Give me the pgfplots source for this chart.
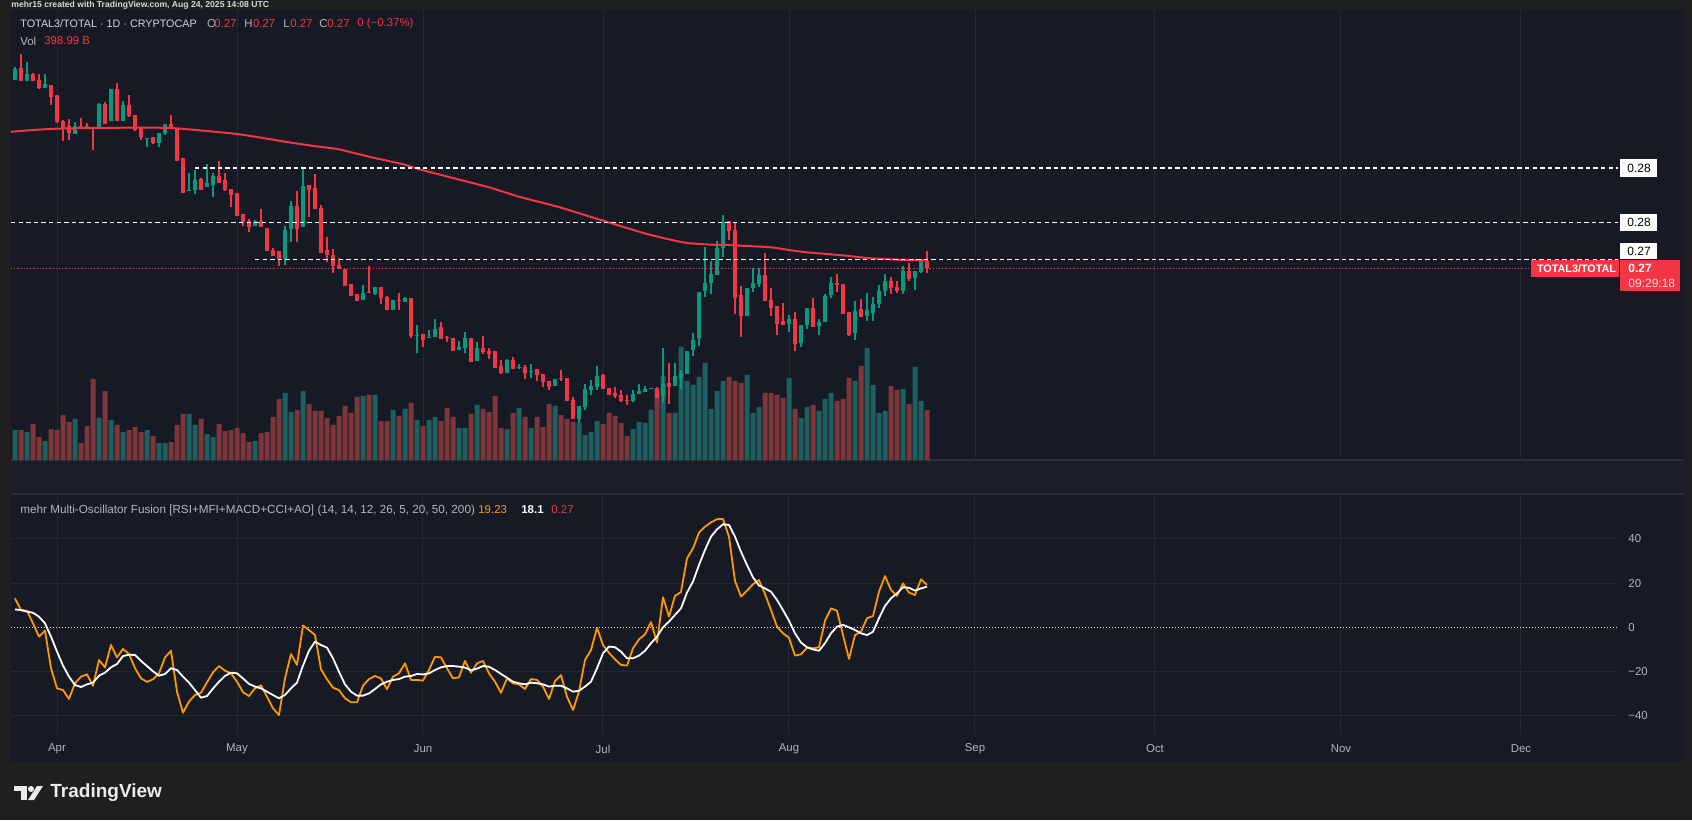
\documentclass[border=0pt]{standalone}
\usepackage{pgfplots}
\pgfplotsset{compat=1.18}
\usepackage{pgfplotstable}
\usepackage{fontspec}
\setmainfont{Liberation Sans}
\definecolor{bgout}{HTML}{1F1F1F}
\definecolor{panel}{HTML}{161A25}
\definecolor{gridc}{HTML}{242833}
\definecolor{sepc}{HTML}{2A2E39}
\definecolor{upc}{HTML}{089981}
\definecolor{dnc}{HTML}{F23645}
\definecolor{volup}{HTML}{1E605F}
\definecolor{voldn}{HTML}{80353B}
\definecolor{txtc}{HTML}{B2B5BE}
\definecolor{ttlc}{HTML}{D1D4DC}
\definecolor{orc}{HTML}{FF9800}
\newcommand{\tvf}{\fontsize{5.7}{6.8}\selectfont}

% candles: d = days from 1 Apr; o,h,l,c = vertical position on the price pane (larger = lower price); g = 1 up / 0 down; v = volume (bar height)
\pgfplotstableread{
d o h l c g v
-7 119 80 119 87 1 90
-6 84 42 123 123 0 90
-5 122 66 122 101 1 84
-4 101 98 122 122 0 108
-3 120 101 147 143 0 69
-2 143 102 143 131 1 57
-1 135 135 195 170 0 93
0 165 165 250 247 0 90
1 243 240 302 265 0 135
2 258 237 299 278 0 114
3 281 246 281 258 1 123
4 258 235 262 261 0 51
5 259 249 262 262 0 102
6 261 261 329 264 0 243
7 262 188 262 192 1 126
8 192 186 251 251 0 207
9 242 148 242 148 1 120
10 148 129 242 242 0 105
11 242 183 242 195 1 84
12 195 165 231 227 0 90
13 226 226 273 271 0 99
14 264 264 300 292 0 84
15 296 293 322 293 1 90
16 291 291 311 308 0 72
17 308 279 320 279 1 51
18 278 253 286 253 1 51
19 253 225 266 266 0 54
20 266 266 362 362 0 105
21 354 354 458 458 0 138
22 452 400 452 450 1 138
23 450 390 462 420 1 105
24 418 413 449 449 0 123
25 440 372 442 429 1 78
26 434 400 470 407 1 69
27 408 363 428 428 0 108
28 420 400 452 449 0 87
29 447 447 502 464 0 90
30 459 459 527 527 0 96
31 522 522 558 545 0 81
32 543 536 576 562 0 54
33 559 540 559 543 1 57
34 543 507 562 562 0 81
35 564 564 632 632 0 84
36 629 623 647 647 0 129
37 633 633 677 658 0 183
38 658 559 674 570 1 201
39 568 484 605 498 1 144
40 497 453 605 566 0 150
41 562 381 562 438 1 207
42 436 436 530 449 0 168
43 443 402 508 508 0 147
44 503 495 638 638 0 147
45 630 590 665 646 0 126
46 645 628 700 677 0 105
47 676 655 686 686 0 132
48 686 686 737 737 0 162
49 732 732 767 767 0 141
50 762 762 782 782 0 189
51 779 736 779 759 1 192
52 757 679 760 760 0 195
53 762 741 765 741 1 195
54 741 741 791 773 0 117
55 771 768 809 809 0 117
56 809 780 809 780 1 150
57 779 759 809 782 0 132
58 785 770 785 773 1 153
59 774 774 893 887 0 171
60 888 855 938 885 1 120
61 882 882 920 899 0 102
62 892 871 892 890 1 120
63 890 837 890 867 1 129
64 861 846 896 896 0 117
65 892 887 905 895 0 156
66 894 894 932 932 0 129
67 930 903 930 921 1 96
68 924 876 938 894 1 96
69 894 894 965 965 0 138
70 963 906 963 924 1 165
71 924 888 942 936 0 153
72 933 924 957 942 0 144
73 933 933 983 983 0 192
74 978 960 1001 998 0 96
75 998 957 998 960 1 93
76 960 951 986 986 0 141
77 985 972 987 982 1 156
78 981 975 1016 998 0 129
79 997 972 1013 994 1 96
80 987 987 1022 1004 0 129
81 1002 1002 1040 1025 0 99
82 1023 1023 1049 1040 0 168
83 1037 1018 1037 1018 1 162
84 1015 990 1024 1018 0 135
85 1014 1014 1082 1082 0 123
86 1080 1071 1138 1138 0 114
87 1137 1097 1149 1097 1 111
88 1100 1032 1109 1047 1 75
89 1049 1021 1064 1038 1 84
90 1041 978 1049 1008 1 117
91 1005 1001 1047 1047 0 108
92 1043 1043 1064 1064 0 141
93 1059 1041 1073 1069 0 132
94 1065 1050 1087 1082 0 111
95 1079 1065 1094 1082 0 72
96 1082 1050 1085 1062 1 93
97 1063 1032 1063 1052 1 114
98 1055 1038 1055 1047 1 111
99 1047 1044 1047 1044 1 150
100 1047 1042 1073 1073 0 216
101 1067 924 1088 1032 1 252
102 1029 969 1093 1040 0 141
103 1037 969 1037 1008 1 141
104 1013 990 1046 1001 1 339
105 1001 933 1001 933 1 237
106 929 880 949 900 1 225
107 893 756 917 756 1 249
108 752 622 770 729 1 291
109 728 662 761 702 1 153
110 704 603 704 624 1 207
111 623 524 650 545 1 237
112 543 543 600 572 0 249
113 570 549 822 773 0 237
114 765 737 890 827 0 231
115 827 744 827 744 1 255
116 743 685 755 729 1 141
117 731 683 740 705 1 159
118 705 639 782 782 0 201
119 780 744 828 803 0 201
120 798 798 884 851 0 195
121 843 789 854 854 0 186
122 851 825 876 837 1 246
123 837 817 932 911 0 153
124 908 855 922 855 1 126
125 855 804 866 804 1 159
126 804 773 860 860 0 165
127 857 838 884 846 1 147
128 845 762 845 768 1 183
129 765 711 773 729 1 201
130 729 702 756 735 0 177
131 732 732 821 821 0 183
132 816 816 888 885 0 246
133 878 782 899 813 1 237
134 807 777 831 831 0 282
135 828 759 842 810 1 336
136 818 771 842 792 1 225
137 791 736 803 753 1 141
138 752 702 767 723 1 147
139 723 711 761 743 0 222
140 741 723 758 753 0 210
141 752 678 761 693 1 213
142 693 669 722 717 0 168
143 714 693 749 693 1 279
144 696 660 698 663 1 177
145 663 633 698 685 0 150
}\candles

\pgfplotstableread{
d f s
-7 13.1 8.1
-6 7.8 7.8
-5 7.5 7.1
-4 1.8 6.6
-3 -4.2 4.8
-2 -1.5 1.8
-1 -18.5 -4.2
0 -27.6 -11.0
1 -28.4 -17.3
2 -32.4 -22.3
3 -25.3 -26.1
4 -22.3 -27.0
5 -21.3 -25.8
6 -26.5 -25.0
7 -14.8 -21.9
8 -18.1 -20.5
9 -8.0 -18.1
10 -13.6 -16.6
11 -9.8 -13.0
12 -12.1 -12.4
13 -18.5 -12.5
14 -23.1 -15.2
15 -24.7 -17.5
16 -23.5 -19.9
17 -20.8 -21.9
18 -13.6 -21.1
19 -10.6 -18.5
20 -29.1 -19.3
21 -38.6 -22.3
22 -33.6 -25.0
23 -30.6 -28.4
24 -29.6 -31.8
25 -24.9 -31.1
26 -20.4 -27.7
27 -17.5 -24.6
28 -19.6 -22.0
29 -20.8 -20.5
30 -24.6 -20.8
31 -29.3 -23.1
32 -31.1 -25.6
33 -27.6 -26.8
34 -26.2 -27.6
35 -31.4 -29.1
36 -36.6 -30.6
37 -39.7 -32.1
38 -23.1 -30.6
39 -12.1 -27.6
40 -17.0 -25.0
41 0.8 -17.3
42 -1.2 -10.6
43 -3.5 -6.5
44 -19.0 -8.0
45 -23.5 -9.2
46 -27.3 -14.0
47 -28.4 -20.1
48 -32.1 -25.8
49 -33.9 -29.1
50 -33.9 -30.9
51 -26.4 -30.9
52 -23.4 -29.9
53 -22.0 -27.9
54 -23.1 -25.8
55 -28.0 -24.6
56 -22.3 -23.8
57 -20.8 -23.4
58 -16.3 -22.3
59 -23.8 -22.0
60 -23.8 -21.1
61 -24.1 -21.3
62 -19.3 -20.8
63 -13.3 -19.3
64 -13.6 -18.1
65 -18.5 -17.5
66 -23.1 -17.5
67 -22.6 -17.8
68 -15.2 -18.2
69 -20.5 -19.5
70 -16.3 -18.7
71 -15.2 -17.5
72 -20.8 -17.8
73 -24.6 -19.3
74 -29.6 -21.1
75 -23.1 -22.8
76 -25.3 -24.6
77 -25.8 -25.3
78 -27.9 -25.8
79 -23.4 -25.0
80 -23.8 -25.3
81 -26.8 -25.8
82 -32.4 -26.8
83 -24.3 -26.4
84 -21.6 -26.4
85 -31.4 -27.6
86 -37.4 -29.1
87 -29.1 -28.7
88 -14.8 -26.8
89 -10.3 -24.6
90 -0.2 -18.5
91 -8.0 -11.8
92 -11.5 -8.7
93 -14.5 -9.0
94 -17.0 -11.0
95 -17.3 -14.0
96 -9.5 -14.0
97 -5.4 -12.8
98 -3.2 -10.6
99 2.4 -7.2
100 -6.9 -4.2
101 13.6 0.0
102 4.8 2.6
103 14.2 5.6
104 16.0 8.6
105 31.2 15.7
106 35.7 20.7
107 42.8 28.2
108 45.5 35.0
109 47.5 41.0
110 48.9 44.3
111 49.0 46.6
112 41.0 46.3
113 21.0 41.0
114 13.9 34.2
115 16.6 28.2
116 19.5 22.6
117 21.4 18.9
118 15.1 17.6
119 7.8 16.1
120 0.3 12.4
121 -2.7 7.8
122 -4.7 3.0
123 -12.8 -2.7
124 -12.2 -6.9
125 -9.2 -9.0
126 -9.5 -10.0
127 -9.0 -10.6
128 3.0 -7.2
129 8.6 -2.7
130 7.5 0.3
131 -3.5 1.1
132 -14.3 0.0
133 -3.5 -1.2
134 -2.0 -2.7
135 4.1 -3.5
136 5.1 -2.0
137 16.1 4.1
138 23.2 9.7
139 16.9 13.1
140 14.2 15.4
141 19.9 18.1
142 15.7 17.9
143 14.6 16.6
144 21.7 17.6
145 19.2 18.4
}\osc

\pgfplotsset{
  tvpane/.style={anchor=south west, scale only axis, width=803.5pt,
    xmin=-7.667, xmax=260.17, axis line style={draw=none},
    major tick length=0pt, clip=true},
  candle/.style 2 args={draw=none, mark=none, restrict expr to domain={\thisrow{g}}{#1},
    error bars/.cd, y dir=plus, y explicit, error mark=none,
    error bar style={draw=#2, line width=0.55pt}},
  body/.style 2 args={draw=none, mark=none, restrict expr to domain={\thisrow{g}}{#1},
    error bars/.cd, y dir=plus, y explicit, error mark=none,
    error bar style={draw=#2, line width=2.4pt}},
}

\begin{document}
\begin{tikzpicture}[x=1pt,y=1pt]
\useasboundingbox (0,0) rectangle (846,410);
\fill[bgout] (0,0) rectangle (846,410);
\fill[panel] (5.5,29) rectangle (842,405);
\fill[panel!98!white] (5.5,163) rectangle (842,180);
\draw[sepc, line width=0.6pt] (5.5,180) -- (842,180);
\draw[sepc, line width=0.6pt] (5.5,163) -- (842,163);

% volume pane (behind the candles)
\begin{axis}[tvpane, at={(5.5pt,180pt)}, height=225pt, ymin=0, ymax=1350,
  xtick={0,30,61,91,122,153,183,214,244}, xticklabels={}, ytick=\empty,
  xmajorgrids, grid style={draw=gridc, line width=0.5pt}]
\addplot[ybar, bar width=2.5pt, bar shift=0pt, fill=volup, draw=none,
  restrict expr to domain={\thisrow{g}}{0.5:1.5}] table[x=d, y=v] {\candles};
\addplot[ybar, bar width=2.5pt, bar shift=0pt, fill=voldn, draw=none,
  restrict expr to domain={\thisrow{g}}{-0.5:0.5}] table[x=d, y=v] {\candles};
\end{axis}

% price pane
\begin{axis}[tvpane, at={(5.5pt,180pt)}, height=225pt, ymin=-90, ymax=1260, y dir=reverse,
  xtick=\empty, ytick=\empty]
% wicks
\addplot[candle={0.5:1.5}{upc}]
  table[x=d, y=h, y error plus expr={\thisrow{l}-\thisrow{h}}] {\candles};
\addplot[candle={-0.5:0.5}{dnc}]
  table[x=d, y=h, y error plus expr={\thisrow{l}-\thisrow{h}}] {\candles};
% bodies
\addplot[body={0.5:1.5}{upc}]
  table[x=d, y expr={min(\thisrow{o},\thisrow{c})}, y error plus expr={max(abs(\thisrow{o}-\thisrow{c}),3)}] {\candles};
\addplot[body={-0.5:0.5}{dnc}]
  table[x=d, y expr={min(\thisrow{o},\thisrow{c})}, y error plus expr={max(abs(\thisrow{o}-\thisrow{c}),3)}] {\candles};
% moving average
\addplot[dnc, line width=1pt, smooth, tension=0.4] coordinates {
(-8,276) (-4,270) (0,266) (6,264) (13,263) (19,264) (25,273) (30,282) (34,293) (38,305) (42,316) (45,323) (47,328) (52,350) (58,374) (60,386) (66,414) (72,442) (77,470) (83,498) (86,514) (91,542) (97,575) (99,585) (102,598) (105,609) (109,614) (112,615) (115,618) (119,622) (122,630) (125,637) (129,643) (132,648) (135,654) (139,658) (142,660) (145,660)};
% horizontal levels
\addplot[white, line width=0.6pt, dash pattern=on 2.2pt off 1.6pt] coordinates {(23,384) (260.17,384)};
\addplot[white, line width=0.6pt, dash pattern=on 2.2pt off 1.6pt] coordinates {(-7.667,547) (260.17,547)};
\addplot[white, line width=0.6pt, dash pattern=on 2.2pt off 1.6pt] coordinates {(33,658) (260.17,658)};
\addplot[dnc, line width=0.6pt, dash pattern=on 0.6pt off 1pt] coordinates {(-7.667,685) (245.67,685)};
\end{axis}

% oscillator pane
\begin{axis}[tvpane, at={(5.5pt,42.5pt)}, height=120.5pt, ymin=-48.7, ymax=60.3,
  xtick={0,30,61,91,122,153,183,214,244},
  xticklabels={Apr,May,Jun,Jul,Aug,Sep,Oct,Nov,Dec},
  ytick={-40,-20,20,40}, yticklabels={−40,−20,20,40},
  extra y ticks={0}, extra y tick labels={0}, extra y tick style={grid=none},
  yticklabel pos=right,
  xmajorgrids, ymajorgrids, grid style={draw=gridc, line width=0.5pt},
  tick label style={font=\tvf, text=txtc},
  xticklabel style={anchor=center, yshift=-7pt},
  yticklabel style={anchor=west, xshift=5pt, inner sep=0pt}]
\addplot[white!90!black, line width=0.5pt, dash pattern=on 0.5pt off 1pt] coordinates {(-7.667,0) (260.17,0)};
\addplot[orc, line width=0.9pt, line join=round] table[x=d, y=f] {\osc};
\addplot[white, line width=0.9pt, line join=round] table[x=d, y=s] {\osc};
\end{axis}

% header texts
\node[anchor=base west, inner sep=0, text=white!85!black, font=\bfseries\fontsize{4.3}{5}\selectfont] at (5.5,406.2) {mehr15 created with TradingView.com, Aug 24, 2025 14:08 UTC};
\node[anchor=west, inner sep=0, text=ttlc, font=\fontsize{5.4}{6.5}\selectfont] at (10,398) {TOTAL3/TOTAL · 1D · CRYPTOCAP};
\node[anchor=west, inner sep=0, text=txtc, font=\tvf] at (103.4,398) {O};
\node[anchor=west, inner sep=0, text=dnc, font=\tvf] at (107,398) {0.27};
\node[anchor=west, inner sep=0, text=txtc, font=\tvf] at (122,398) {H};
\node[anchor=west, inner sep=0, text=dnc, font=\tvf] at (126.3,398) {0.27};
\node[anchor=west, inner sep=0, text=txtc, font=\tvf] at (141.5,398) {L};
\node[anchor=west, inner sep=0, text=dnc, font=\tvf] at (145,398) {0.27};
\node[anchor=west, inner sep=0, text=txtc, font=\tvf] at (159.5,398) {C};
\node[anchor=west, inner sep=0, text=dnc, font=\tvf] at (163.5,398) {0.27};
\node[anchor=west, inner sep=0, text=dnc, font=\tvf] at (178.5,398) {0 (−0.37\%)};
\node[anchor=west, inner sep=0, text=txtc, font=\tvf] at (10,389.5) {Vol};
\node[anchor=west, inner sep=0, text=dnc, font=\tvf] at (22,389.5) {398.99 B};

\node[anchor=west, inner sep=0, text=txtc, font=\fontsize{5.85}{7}\selectfont] at (10,155) {mehr Multi-Oscillator Fusion [RSI+MFI+MACD+CCI+AO] (14, 14, 12, 26, 5, 20, 50, 200)};
\node[anchor=west, inner sep=0, text=orc, font=\tvf] at (239,155) {19.23};
\node[anchor=west, inner sep=0, text=white, font=\bfseries\tvf] at (260.5,155) {18.1};
\node[anchor=west, inner sep=0, text=dnc, font=\tvf] at (275.5,155) {0.27};

% price scale labels
\fill[white] (810,321.5) rectangle (828.5,330.5);
\node[anchor=west, inner sep=0, text=black, font=\fontsize{6}{7}\selectfont] at (813.5,326) {0.28};
\fill[white] (810,294.5) rectangle (828.5,303);
\node[anchor=west, inner sep=0, text=black, font=\fontsize{6}{7}\selectfont] at (813.5,298.75) {0.28};
\fill[white] (810,280.5) rectangle (828.5,288.5);
\node[anchor=west, inner sep=0, text=black, font=\fontsize{6}{7}\selectfont] at (813.5,284.5) {0.27};
\fill[dnc] (810,264.5) rectangle (840,280);
\node[anchor=west, inner sep=0, text=white, font=\bfseries\fontsize{6}{7}\selectfont] at (814,276) {0.27};
\node[anchor=west, inner sep=0, text=white!80!dnc, font=\fontsize{6}{7}\selectfont] at (814,268.5) {09:29:18};
\fill[dnc] (765.5,271.5) rectangle (809.5,280);
\node[anchor=west, inner sep=0, text=white, font=\bfseries\fontsize{5.4}{6}\selectfont] at (768.3,275.8) {TOTAL3/TOTAL};

% TradingView logo
\fill[white!92!black] (7,17) rectangle (13.5,14.5);
\fill[white!92!black] (10.5,17) rectangle (13.5,10);
\fill[white!92!black] (15.5,15.5) circle (1.5);
\fill[white!92!black] (14,10) -- (17,10) -- (21.5,17) -- (18.5,17) -- cycle;
\node[anchor=west, inner sep=0, text=white!92!black, font=\bfseries\fontsize{9.5}{11}\selectfont] at (25,13.5) {TradingView};
\end{tikzpicture}
\end{document}
